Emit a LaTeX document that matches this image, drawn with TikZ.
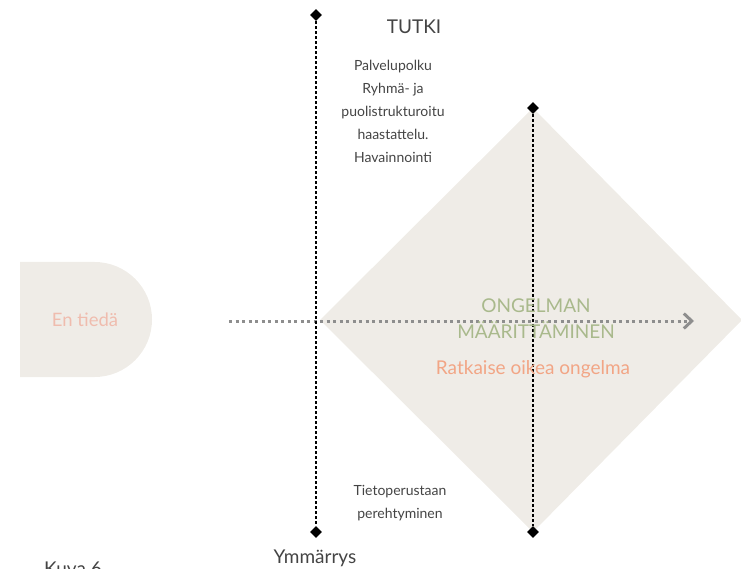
\documentclass[tikz,border=0pt]{standalone}
\usepackage{fontspec}
\setmainfont{Lato}
\usetikzlibrary{shapes.geometric,arrows.meta}
\definecolor{panel}{HTML}{EFECE7}
\definecolor{ink}{HTML}{444444}
\definecolor{sage}{HTML}{A9B98C}
\definecolor{salmon}{HTML}{F2A585}
\definecolor{blush}{HTML}{EFBCAE}
\definecolor{arrowgrey}{HTML}{8E8E8E}
\begin{document}
\begin{tikzpicture}[x=1pt,y=-1pt,
  marker/.style={diamond,fill=black,inner sep=0pt,minimum size=12pt},
  axisline/.style={line width=2.6pt,dash pattern=on 2.4pt off 2.6pt,black},
  flowline/.style={line width=3pt,dash pattern=on 3pt off 3.5pt,arrowgrey,
    -{Straight Barb[length=8pt,width=15pt,line width=3pt]}},
  body/.style={text=ink,font=\fontsize{14}{17}\selectfont,align=center},
  heading/.style={text=ink,font=\fontsize{19}{22}\selectfont}]
\useasboundingbox (0,0) rectangle (741,569);
% background shapes
\fill[panel] (20,262) -- (94.5,262) arc[start angle=-90,end angle=90,radius=57.5] -- (20,377) -- cycle;
\fill[panel] (533,108) -- (742,320) -- (533,532) -- (320,320) -- cycle;
% end points of the two axes
\node[marker] (a1) at (316,15) {};
\node[marker] (a2) at (316,532) {};
\node[marker] (b1) at (533,108) {};
\node[marker] (b2) at (533,532) {};
% flow arrow
\coordinate (f1) at (229,321);
\coordinate (f2) at (694,321);
\draw[flowline] (f1) -- (f2);
\draw[axisline] (a1) -- (a2);
\draw[axisline] (b1) -- (b2);
% labels
\node[text=blush,font=\fontsize{18.5}{20}\selectfont] (start) at (85,320) {En tiedä};
\node[heading] (tutki) at (414,27) {TUTKI};
\node[body] (methods) at (393,111) {Palvelupolku\\[6pt]Ryhmä- ja\\[6pt]puolistrukturoitu\\[6pt]haastattelu.\\[6pt]Havainnointi};
\node[text=sage,font=\fontsize{19}{26}\selectfont,align=center] (define) at (536,319) {ONGELMAN\\MÄÄRITTÄMINEN};
\node[text=salmon,font=\fontsize{19}{21}\selectfont] (solve) at (533,369) {Ratkaise oikea ongelma};
\node[body] (base) at (400,503) {Tietoperustaan\\[6pt]perehtyminen};
\node[heading] (understand) at (315,558) {Ymmärrys};
\node[heading] (caption) at (73,569) {Kuva 6};
\end{tikzpicture}
\end{document}
